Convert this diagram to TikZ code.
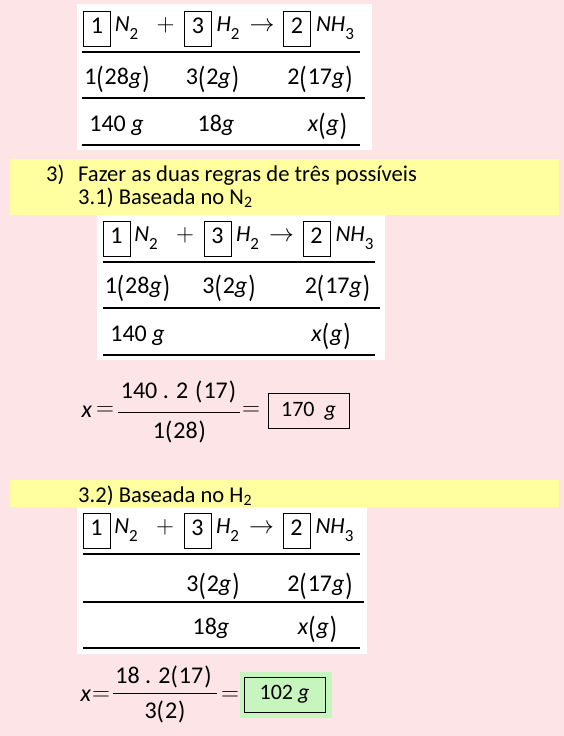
\documentclass[tikz,border=0pt]{standalone}
\usepackage{fontspec}
\setmainfont{Carlito}
\usepackage{tikz}

\definecolor{pinkbg}{RGB}{253,228,230}
\definecolor{yellowbar}{RGB}{255,255,160}
\definecolor{greenbox}{RGB}{198,246,190}

\newcommand\pa[1]{\raisebox{-4pt}{\scalebox{1}[1.28]{(}}\hspace{1pt}#1\hspace{1pt}\raisebox{-4pt}{\scalebox{1}[1.28]{)}}}
\newcommand\pf[1]{\raisebox{-1.5pt}{\scalebox{1}[1.06]{(}}\hspace{1pt}#1\hspace{1pt}\raisebox{-1.5pt}{\scalebox{1}[1.06]{)}}}
\newcommand\lo[1]{\raisebox{-8pt}{\fontsize{17}{17}\selectfont #1}}

\begin{document}
\begin{tikzpicture}[x=1pt,y=-1pt,
  coef/.style={draw,line width=0.8pt,minimum width=27pt,minimum height=35pt,inner sep=0pt,
    text height=15pt,text depth=6pt,font=\fontsize{24}{24}\selectfont},
  head/.style={anchor=base,inner sep=0pt,font=\fontsize{23}{23}\selectfont},
  cell/.style={anchor=base,inner sep=0pt,font=\fontsize{24}{24}\selectfont},
  mid/.style={cell,anchor=center},
  say/.style={anchor=base west,inner sep=0pt,font=\fontsize{22.6}{22.6}\selectfont},
  rule/.style={line width=1.2pt},
  result/.style={draw,line width=0.8pt,minimum width=81pt,minimum height=35pt,inner sep=0pt,
    font=\fontsize{22}{22}\selectfont}]

\useasboundingbox (0,0) rectangle (564,736);
\fill[pinkbg] (0,0) rectangle (564,736);

%% yellow bars and white sheets
\fill[yellowbar] (10,159) rectangle (559,215);
\fill[yellowbar] (10,480) rectangle (559,507);
\fill[white] (77,4) rectangle (372,150);
\fill[white] (97,215) rectangle (385,360);
\fill[white] (77,507) rectangle (367,654);

%% the reaction heading each table
\foreach \t/\X/\Y in {a/97/28.5, b/116.5/238.5, c/96.5/531}
{
  \node[coef] (\t c1) at (\X,\Y) {1};
  \node[head] (\t n2) at (\X+29.5,\Y+2.5) {\textit{N}\lo{2}};
  \node[head] (\t plus) at (\X+68.5,\Y+2.5) {$+$};
  \node[coef] (\t c3) at (\X+101,\Y) {3};
  \node[head] (\t h2) at (\X+131,\Y+2.5) {\textit{H}\lo{2}};
  \node[head] (\t to) at (\X+165,\Y+2.5) {$\rightarrow$};
  \node[coef] (\t c2) at (\X+200,\Y) {2};
  \node[head] (\t nh3) at (\X+238,\Y+2.5) {\textit{NH}\lo{3}};
}

%% table a
\node[cell] (a28) at (117,84.5) {1\pa{28\textit{g}}};
\node[cell] (a2) at (212.5,84.5) {3\pa{2\textit{g}}};
\node[cell] (a17) at (320,84.5) {2\pa{17\textit{g}}};
\node[cell] (a140) at (116.5,131.5) {140 \textit{g}};
\node[cell] (a18) at (216,131.5) {18\textit{g}};
\node[cell] (ax) at (327.5,131.5) {\textit{x}\pa{\textit{g}}};
\draw[rule] (82,52) -- (360,52);
\draw[rule] (82,98) -- (365,98);
\draw[rule] (82,145) -- (360,145);

%% step 3
\node[say] (s3) at (46,181) {3)};
\node[say] (s3t) at (78,181) {Fazer as duas regras de três possíveis};
\node[say] (s31) at (78,204) {3.1) Baseada no N\textsubscript{2}};

%% table b
\node[cell] (b28) at (137.5,293.5) {1\pa{28\textit{g}}};
\node[cell] (b2) at (229,293.5) {3\pa{2\textit{g}}};
\node[cell] (b17) at (337.5,293.5) {2\pa{17\textit{g}}};
\node[cell] (b140) at (137.5,341.5) {140 \textit{g}};
\node[cell] (bx) at (331,341.5) {\textit{x}\pa{\textit{g}}};
\draw[rule] (103,262) -- (375,262);
\draw[rule] (103,308) -- (380,308);
\draw[rule] (103,355) -- (375,355);

%% x from N2
\node[mid] (x1) at (87,411.5) {\textit{x}};
\node[mid] (eq1) at (105,411) {$=$};
\node[cell] (num1) at (178.5,398) {140 . 2\hspace{7pt}\pf{17}};
\node[cell] (den1) at (179.5,438) {1\pf{28}};
\draw[line width=0.9pt] (118,412) -- (240,412);
\node[mid] (eq1b) at (251,411) {$=$};
\node[result] (r1) at (308.5,411) {170\hspace{10pt}\textit{g}};

%% step 3.2
\node[say] (s32) at (78,502) {3.2) Baseada no H\textsubscript{2}};

%% table c
\node[cell] (c2) at (213,591.5) {3\pa{2\textit{g}}};
\node[cell] (c17) at (320,591.5) {2\pa{17\textit{g}}};
\node[cell] (c18) at (211,634.5) {18\textit{g}};
\node[cell] (cx) at (317.5,634.5) {\textit{x}\pa{\textit{g}}};
\draw[rule] (83,554) -- (360,554);
\draw[rule] (83,602) -- (364,602);
\draw[rule] (83,648) -- (360,648);

%% x from H2
\node[mid] (x2) at (86,696) {\textit{x}};
\node[mid] (eq2) at (101,696) {$=$};
\node[cell] (num2) at (163.5,683) {18 . 2\pf{17}};
\node[cell] (den2) at (165,718) {3\pf{2}};
\draw[line width=0.9pt] (113,693) -- (217,693);
\node[mid] (eq2b) at (230,696) {$=$};
\fill[greenbox] (240,672) rectangle (332,718);
\node[result] (r2) at (284.5,694.5) {102 \textit{g}};

\end{tikzpicture}
\end{document}
